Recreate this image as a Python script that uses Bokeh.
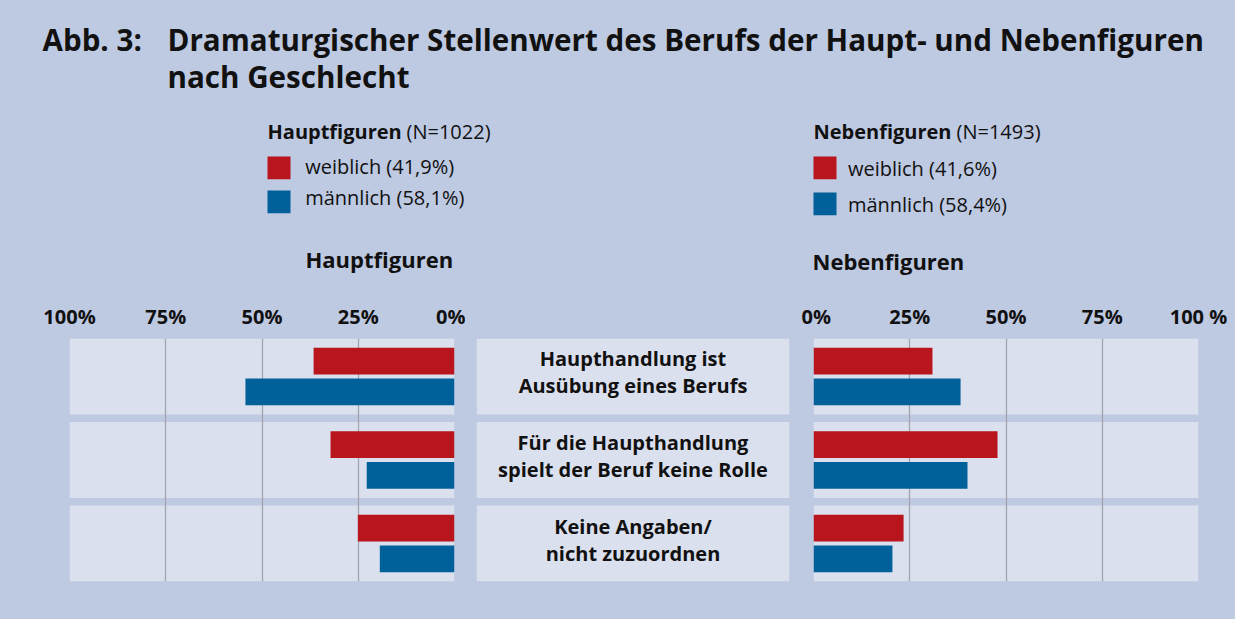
from bokeh.plotting import figure
from bokeh.layouts import column, row
from bokeh.models import Range1d, FixedTicker, Label, ColumnDataSource
from bokeh.core.properties import value
from bokeh.transform import dodge
from bokeh.embed import file_html
from bokeh.resources import INLINE

# ---------------- data ----------------
categories = ["Haupthandlung ist\nAusübung eines Berufs",
              "Für die Haupthandlung\nspielt der Beruf keine Rolle",
              "Keine Angaben/\nnicht zuzuordnen"]
haupt_weiblich = [36.6, 32.2, 25.1]
haupt_maennlich = [54.3, 22.8, 19.4]
neben_weiblich = [30.9, 47.8, 23.4]
neben_maennlich = [38.2, 40.0, 20.5]
ticks = [0, 25, 50, 75, 100]
tick_labels_left = ["0%", "25%", "50%", "75%", "100%"]
tick_labels_right = ["0%", "25%", "50%", "75%", "100 %"]
legend_haupt = ["Hauptfiguren", "(N=1022)", "weiblich (41,9%)", "männlich (58,1%)"]
legend_neben = ["Nebenfiguren", "(N=1493)", "weiblich (41,6%)", "männlich (58,4%)"]
title_lines = ["Abb. 3:", "Dramaturgischer Stellenwert des Berufs der Haupt- und Nebenfiguren", "nach Geschlecht"]

# ---------------- style ----------------
BG = "#bec9e2"
PANEL = "#dbe0ee"
RED = "#b9151d"
BLUE = "#00609a"
GRID = "#a3a6b0"
TXT = "#111111"
FONT = "Open Sans"

W = 1235
HEAD_H = 282
ROW_H = 337
TOP = 56
BOTTOM = 38
PAD = 0.455
BASE_SHIFT = 0.4  # em correction for alphabetic baseline placement


def base_fig(width, height, **kw):
    p = figure(width=width, height=height, output_backend="svg", toolbar_location=None, **kw)
    p.background_fill_color = BG
    p.border_fill_color = BG
    p.outline_line_color = None
    return p


# ---------------- header ----------------
head = base_fig(W, HEAD_H, x_range=Range1d(0, W), y_range=Range1d(HEAD_H, 0),
                x_axis_location=None, y_axis_location=None,
                min_border=0, min_border_left=0, min_border_right=0,
                min_border_top=0, min_border_bottom=0)
head.grid.visible = False


def lab(p, x, y, text, size, bold=False, align="left"):
    p.add_layout(Label(x=x, y=y - BASE_SHIFT * size, text=text, text_font=FONT,
                       text_font_size=f"{size}px",
                       text_font_style="bold" if bold else "normal", text_color=TXT,
                       text_align=align, text_baseline="alphabetic"))


lab(head, 42, 51, title_lines[0], 29.6, True)
lab(head, 167, 51, title_lines[1], 29.6, True)
lab(head, 167, 88, title_lines[2], 29.6, True)


def legend_block(p, x, x_n, y_title, sw_tops, text_x, text_bases, items, sub_x, sub_y):
    lab(p, x, y_title, items[0], 20, True)
    lab(p, x_n, y_title, items[1], 20, False)
    p.quad(left=[x, x], right=[x + 23, x + 23],
           top=[sw_tops[0], sw_tops[1]], bottom=[sw_tops[0] + 22.7, sw_tops[1] + 22.7],
           fill_color=[RED, BLUE], line_color=None)
    lab(p, text_x, text_bases[0], items[2], 20)
    lab(p, text_x, text_bases[1], items[3], 20)
    lab(p, sub_x, sub_y, items[0], 22, True)


legend_block(head, 267, 406, 138.7, [156, 190], 304.7, [173.7, 205], legend_haupt, 305, 267.7)
legend_block(head, 813, 956, 138.7, [156, 192], 847.4, [176.3, 212], legend_neben, 812, 269.7)


# ---------------- bar panels ----------------
def bar_fig(w_vals, m_vals, reverse, width, bl, br, labels):
    n = len(categories)
    src = ColumnDataSource(dict(y=list(range(n)), w=w_vals, m=m_vals,
                                full=[100] * n, zero=[0] * n))
    xr = Range1d(100, 0) if reverse else Range1d(0, 100)
    p = base_fig(width, ROW_H, x_range=xr, y_range=Range1d(n - 1 + PAD, -PAD),
                 x_axis_location="above", y_axis_location=None,
                 min_border_left=bl, min_border_right=br,
                 min_border_top=TOP, min_border_bottom=BOTTOM)
    p.hbar(y="y", left="zero", right="full", height=0.91, source=src,
           fill_color=PANEL, line_color=None, level="image")
    p.hbar(y=dodge("y", -0.185), left="zero", right="w", height=0.32, source=src,
           fill_color=RED, line_color=None)
    p.hbar(y=dodge("y", 0.185), left="zero", right="m", height=0.32, source=src,
           fill_color=BLUE, line_color=None)
    p.xgrid.ticker = FixedTicker(ticks=ticks[1:-1])
    p.xgrid.grid_line_color = GRID
    p.xgrid.grid_line_width = 1.3
    p.ygrid.visible = False
    ax = p.xaxis[0]
    ax.ticker = FixedTicker(ticks=ticks)
    ax.major_label_overrides = {t: l for t, l in zip(ticks, labels)}
    ax.axis_line_color = None
    ax.major_tick_line_color = None
    ax.minor_tick_line_color = None
    ax.major_label_text_font = FONT
    ax.major_label_text_font_size = "20px"
    ax.major_label_text_font_style = "bold"
    ax.major_label_text_color = TXT
    ax.major_label_standoff = 3
    return p


left = bar_fig(haupt_weiblich, haupt_maennlich, True, 465, 69, 11, tick_labels_left)
right = bar_fig(neben_weiblich, neben_maennlich, False, 434, 12, 37, tick_labels_right)

# ---------------- category labels ----------------
n = len(categories)
msrc = ColumnDataSource(dict(y=list(range(n)), cat=categories, x0=[0] * n, x1=[1] * n, xc=[0.5] * n))
mid = base_fig(336, ROW_H, x_range=Range1d(0, 1), y_range=Range1d(n - 1 + PAD, -PAD),
               x_axis_location=None, y_axis_location=None,
               min_border_left=11, min_border_right=12,
               min_border_top=TOP, min_border_bottom=BOTTOM)
mid.grid.visible = False
mid.hbar(y="y", left="x0", right="x1", height=0.91, source=msrc, fill_color=PANEL, line_color=None)
mid.text(x="xc", y="y", text="cat", source=msrc, text_font=value(FONT), text_font_style="bold",
         text_font_size="20px", text_color=TXT, text_align="center", text_baseline="middle",
         text_line_height=1.0, y_offset=-4)

bar_row = row(left, mid, right, styles={"background-color": BG})
layout = column(head, bar_row, styles={"background-color": BG})
open("out.html", "w").write(file_html(layout, INLINE))
